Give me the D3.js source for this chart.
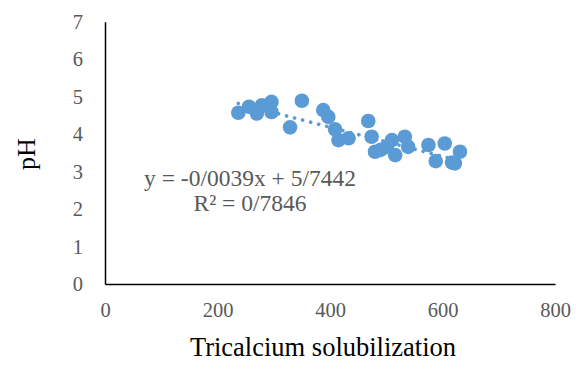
<!DOCTYPE html>
<html>
<head>
<meta charset="utf-8">
<script src="https://cdn.jsdelivr.net/npm/d3@7"></script>
<style>
  body { margin: 0; background: #fff; }
  text { font-family: "Liberation Serif", "Times New Roman", serif; }
</style>
</head>
<body>
<div id="scatter"></div>
<script>
// data
const solubilization = [237, 256, 270, 279, 296, 296, 329, 350, 388, 397, 409, 415, 433, 468,
    474, 480, 490, 501, 510, 516, 533, 539, 575, 588, 604, 617, 622, 631];
const phValues = [4.57, 4.73, 4.55, 4.77, 4.86, 4.59, 4.18, 4.89, 4.64, 4.46, 4.13, 3.84, 3.89, 4.35,
    3.93, 3.53, 3.58, 3.66, 3.84, 3.44, 3.93, 3.66, 3.71, 3.28, 3.75, 3.24, 3.22, 3.53];
const xTicks = [0, 200, 400, 600, 800];
const yTicks = [0, 1, 2, 3, 4, 5, 6, 7];
const slope = -0.0039, intercept = 5.7442;
const eqLines = ["y = -0/0039x + 5/7442", "R² = 0/7846"];

const svgWidth = 576, svgHeight = 369;
const margin = { top: 21.7, bottom: 85, right: 21, left: 105 };
const width = svgWidth - margin.left - margin.right;
const height = svgHeight - margin.top - margin.bottom;

const svg = d3.select("#scatter").append("svg")
    .attr("width", svgWidth)
    .attr("height", svgHeight);

const chart = svg.append("g")
    .attr("transform", `translate(${margin.left}, ${margin.top})`);

const x = d3.scaleLinear().domain([0, 800]).range([0, width]);
const y = d3.scaleLinear().domain([0, 7]).range([height, 0]);

// axes
const xAxis = chart.append("g")
    .attr("transform", `translate(0, ${height})`)
    .call(d3.axisBottom(x).tickValues(xTicks).tickFormat(d3.format("d")).tickSize(0).tickPadding(18));
const yAxis = chart.append("g")
    .call(d3.axisLeft(y).tickValues(yTicks).tickFormat(d3.format("d")).tickSize(0).tickPadding(22));

[xAxis, yAxis].forEach(a => {
    a.attr("font-family", "Liberation Serif").attr("font-size", 20.5);
    a.select(".domain").attr("stroke", "#000").attr("stroke-width", 1.5);
    a.selectAll("text").attr("fill", "#595959");
});

// points
const pts = solubilization.map((v, i) => ({ x: v, y: phValues[i] }));
chart.selectAll("circle.pt")
    .data(pts)
    .enter()
    .append("circle")
    .attr("class", "pt")
    .attr("cx", d => x(d.x))
    .attr("cy", d => y(d.y))
    .attr("r", 7.3)
    .attr("fill", "#5B9BD5");

// linear trendline
const xMin = d3.min(solubilization), xMax = d3.max(solubilization);
const trend = [xMin, xMax].map(v => ({ x: v, y: slope * v + intercept }));
chart.append("path")
    .datum(trend)
    .attr("d", d3.line().x(d => x(d.x)).y(d => y(d.y)))
    .attr("fill", "none")
    .attr("stroke", "#5B9BD5")
    .attr("stroke-width", 3.6)
    .attr("stroke-linecap", "round")
    .attr("stroke-dasharray", "0.1 8.2");

// equation label
chart.append("g")
    .selectAll("text")
    .data(eqLines)
    .enter()
    .append("text")
    .attr("x", 145)
    .attr("y", (d, i) => 164 + i * 25)
    .attr("text-anchor", "middle")
    .attr("fill", "#595959")
    .style("font-size", "23.5px")
    .text(d => d);

// axis titles
svg.append("text")
    .attr("x", 323)
    .attr("y", 356)
    .attr("text-anchor", "middle")
    .attr("fill", "#000")
    .style("font-size", "26.5px")
    .text("Tricalcium solubilization");

svg.append("text")
    .attr("transform", "translate(35, 154) rotate(-90)")
    .attr("text-anchor", "middle")
    .attr("fill", "#000")
    .style("font-size", "26px")
    .text("pH");
</script>
</body>
</html>
